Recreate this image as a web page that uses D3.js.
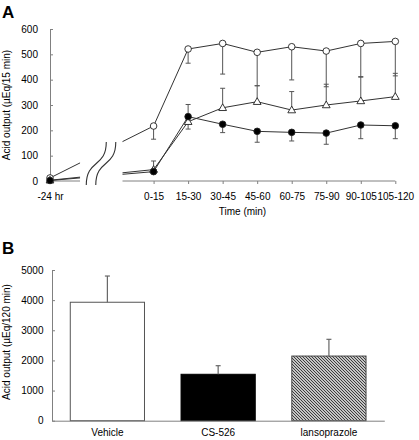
<!DOCTYPE html>
<html><head><meta charset="utf-8">
<script src="https://cdn.jsdelivr.net/npm/d3@7"></script>
<style>body{margin:0;background:#fff}svg{display:block}text{font-family:"Liberation Sans",Arial,sans-serif;fill:#000}</style>
</head><body><svg id="c" width="419" height="440"></svg>
<script>
// Panel A data
const categoriesA = ["-24 hr","0-15","15-30","30-45","45-60","60-75","75-90","90-105","105-120"];
const vehicle      = [12, 217, 521, 543, 508, 530, 513, 543, 551];
const vehicleErrDn = [0, 52, 56, 121, 132, 131, 141, 133, 136];
const vehicleErrUp = [0, 0, 0, 0, 0, 0, 0, 0, 0];
const cs526        = [2, 37, 254, 224, 196, 192, 189, 221, 218];
const cs526ErrUp   = [0, 0, 48, 0, 0, 0, 0, 0, 0];
const cs526ErrDn   = [0, 4, 0, 33, 43, 34, 44, 54, 51];
const lanso        = [3, 45, 234, 289, 313, 280, 300, 316, 333];
const lansoErrUp   = [0, 34, 0, 77, 63, 73, 82, 96, 92];
const lansoErrDn   = [0, 0, 29, 0, 0, 0, 0, 0, 0];
const yTicksA = [0,100,200,300,400,500,600];
// Panel B data
const categoriesB = ["Vehicle","CS-526","lansoprazole"];
const totalB      = [3930, 1540, 2145];
const totalErrB   = [870, 285, 555];
const yTicksB = [0,1000,2000,3000,4000,5000];

const svg = d3.select("#c");
const defs = svg.append("defs");
const pat = defs.append("pattern").attr("id","hatch").attr("patternUnits","userSpaceOnUse")
  .attr("width",3).attr("height",3);
pat.append("rect").attr("width",3).attr("height",3).attr("fill","#fff");
pat.append("path").attr("d","M-1,-1L4,4M-1,2L1,4M2,-1L4,1").attr("stroke","#333").attr("stroke-width",1.1);

const gray = "#808080";

// ---------- Panel A ----------
const domainA = [categoriesA[0], "_g1", "_g2", ...categoriesA.slice(1)];
const xA = d3.scalePoint().domain(domainA).range([50, 395.3]);
const yA = d3.scaleLinear().domain([0,600]).range([181, 29]);
const stepA = xA.step();
const gapL = xA(categoriesA[0]) + 0.87*stepA;
const gapR = xA(categoriesA[1]) - 0.9*stepA;

svg.append("text").attr("x",2).attr("y",17.5).attr("font-size",17).attr("font-weight","bold").text("A");

defs.append("clipPath").attr("id","gapclip").selectAll("rect")
  .data([[0,gapL],[gapR,419]]).join("rect")
  .attr("x",d=>d[0]).attr("width",d=>d[1]-d[0]).attr("y",0).attr("height",220);

// y axis
const gyA = svg.append("g").attr("transform",`translate(${xA(categoriesA[0])},0)`)
  .call(d3.axisLeft(yA).tickValues(yTicksA).tickFormat(d3.format("d")).tickSize(-3).tickPadding(12).tickSizeOuter(0));
gyA.select(".domain").attr("stroke",gray);
gyA.selectAll(".tick line").attr("stroke",gray);
gyA.selectAll("text").attr("font-size",10).attr("font-family",null);

// x axis (ticks and labels), domain drawn manually with break
const gxA = svg.append("g").attr("transform",`translate(0,${yA(0)})`)
  .call(d3.axisBottom(xA).tickValues(categoriesA).tickSize(3).tickPadding(8.5).tickSizeOuter(0));
gxA.select(".domain").remove();
gxA.selectAll(".tick line").attr("stroke",gray);
gxA.selectAll("text").attr("font-size",10).attr("font-family",null);
svg.append("g").selectAll("line").data([[xA(categoriesA[0]),gapL],[gapR,xA(categoriesA[categoriesA.length-1])]])
  .join("line").attr("x1",d=>d[0]).attr("x2",d=>d[1]).attr("y1",yA(0)).attr("y2",yA(0))
  .attr("stroke",gray).attr("stroke-width",1);

// break marks
const gc = (gapL+gapR)/2;
[-5, 4.5].forEach(off=>{
  const cx = gc+off, yb = yA(0)+4, yt = yA(0)-39;
  svg.append("path").attr("d",`M${cx-10},${yb}C${cx-10},${yb-26} ${cx+10},${yt+26} ${cx+10},${yt}`)
    .attr("fill","none").attr("stroke","#333").attr("stroke-width",1.1);
});

svg.append("text").attr("transform",`translate(9.5,${(yA(0)+yA(600))/2}) rotate(-90)`)
  .attr("text-anchor","middle").attr("font-size",10).text("Acid output (µEq/15 min)");
svg.append("text").attr("x",242.5).attr("y",214.5).attr("text-anchor","middle").attr("font-size",10).text("Time (min)");

const series = [
  {v:vehicle, up:vehicleErrUp, dn:vehicleErrDn, m:"open"},
  {v:lanso, up:lansoErrUp, dn:lansoErrDn, m:"tri"},
  {v:cs526, up:cs526ErrUp, dn:cs526ErrDn, m:"fill"}
];
const line = d3.line().x((d,i)=>xA(categoriesA[i])).y(d=>yA(d));
const gLines = svg.append("g").attr("clip-path","url(#gapclip)");
series.forEach(s=>{
  gLines.append("path").attr("d",line(s.v)).attr("fill","none").attr("stroke","#333").attr("stroke-width",1);
});
// error bars
const gErr = svg.append("g").attr("stroke","#555").attr("stroke-width",1);
series.forEach(s=>{
  s.v.forEach((v,i)=>{
    const x = xA(categoriesA[i]);
    [[s.up[i],1],[s.dn[i],-1]].forEach(([e,dir])=>{
      if(!e) return;
      const yEnd = yA(v+dir*e);
      gErr.append("line").attr("x1",x).attr("x2",x).attr("y1",yA(v)).attr("y2",yEnd);
      gErr.append("line").attr("x1",x-2.5).attr("x2",x+2.5).attr("y1",yEnd).attr("y2",yEnd);
    });
  });
});
// markers
const gM = svg.append("g");
series.forEach(s=>{
  s.v.forEach((v,i)=>{
    const x = xA(categoriesA[i]), y = yA(v);
    if(s.m==="tri"){
      gM.append("path").attr("d",d3.symbol(d3.symbolTriangle,26)()).attr("transform",`translate(${x},${y+0.5})`)
        .attr("fill","#fff").attr("stroke","#222").attr("stroke-width",0.9);
    } else {
      gM.append("circle").attr("cx",x).attr("cy",y).attr("r",3.3)
        .attr("fill",s.m==="fill"?"#000":"#fff").attr("stroke","#222").attr("stroke-width",0.9);
    }
  });
});

// ---------- Panel B ----------
const xB = d3.scaleBand().domain(categoriesB).range([52, 384.3]).paddingInner(0.33).paddingOuter(0.165);
const yB = d3.scaleLinear().domain([0,5000]).range([420.7, 270]);

svg.append("text").attr("x",2).attr("y",254).attr("font-size",17).attr("font-weight","bold").text("B");

const fills = ["#fff","#000","url(#hatch)"];
const strokes = ["#555","#000","#444"];
svg.append("g").selectAll("rect").data(totalB).join("rect")
  .attr("x",(d,i)=>xB(categoriesB[i])).attr("width",xB.bandwidth())
  .attr("y",d=>yB(d)).attr("height",d=>yB(0)-yB(d))
  .attr("fill",(d,i)=>fills[i]).attr("stroke",(d,i)=>strokes[i]).attr("stroke-width",1);
const gEB = svg.append("g").attr("stroke","#666").attr("stroke-width",1.2);
totalB.forEach((v,i)=>{
  const x = xB(categoriesB[i]) + xB.bandwidth()/2;
  gEB.append("line").attr("x1",x).attr("x2",x).attr("y1",yB(v)).attr("y2",yB(v+totalErrB[i]));
  gEB.append("line").attr("x1",x-2.5).attr("x2",x+2.5).attr("y1",yB(v+totalErrB[i])).attr("y2",yB(v+totalErrB[i]));
});

const gyB = svg.append("g").attr("transform","translate(52,0)")
  .call(d3.axisLeft(yB).tickValues(yTicksB).tickFormat(d3.format("d")).tickSize(-3).tickPadding(8.5).tickSizeOuter(0));
gyB.select(".domain").attr("stroke",gray);
gyB.selectAll(".tick line").attr("stroke",gray);
gyB.selectAll("text").attr("font-size",10).attr("font-family",null);
const gxB = svg.append("g").attr("transform",`translate(0,${yB(0)})`)
  .call(d3.axisBottom(xB).tickSize(0).tickPadding(8).tickSizeOuter(0));
gxB.select(".domain").attr("stroke",gray);
gxB.selectAll("text").attr("font-size",10).attr("font-family",null);

svg.append("text").attr("transform",`translate(9.5,${342}) rotate(-90)`)
  .attr("text-anchor","middle").attr("font-size",10).text("Acid output (µEq/120 min)");
</script></body></html>
